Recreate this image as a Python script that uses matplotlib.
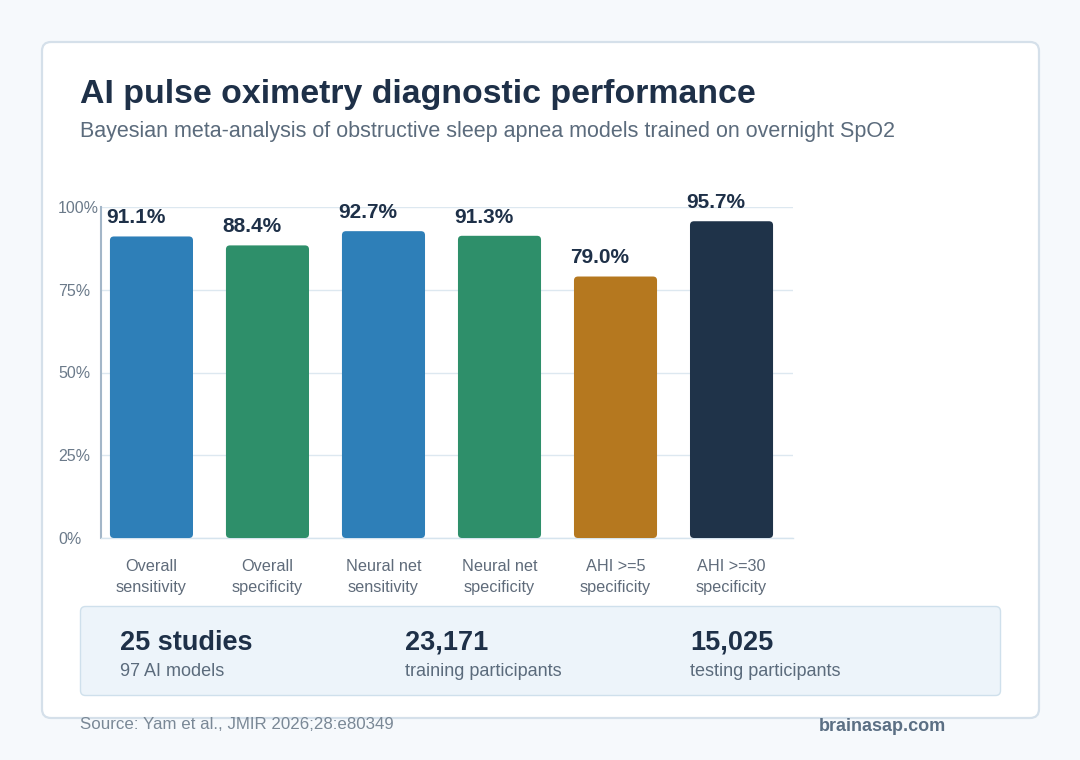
import matplotlib
matplotlib.use("Agg")
import matplotlib.pyplot as plt
from matplotlib.patches import FancyBboxPatch

plt.rcParams['font.family'] = ['Liberation Sans', 'DejaVu Sans']

# ---- data ----
categories = ["Overall\nsensitivity", "Overall\nspecificity", "Neural net\nsensitivity",
              "Neural net\nspecificity", "AHI >=5\nspecificity", "AHI >=30\nspecificity"]
values = [91.1, 88.4, 92.7, 91.3, 79.0, 95.7]
colors = ["#2e7fb8", "#2e8f6a", "#2e7fb8", "#2e8f6a", "#b5781f", "#1f3349"]
yticks = [0, 25, 50, 75, 100]
ytick_labels = ["0%", "25%", "50%", "75%", "100%"]
stat_big = ["25 studies", "23,171", "15,025"]
stat_small = ["97 AI models", "training participants", "testing participants"]

title = "AI pulse oximetry diagnostic performance"
subtitle = "Bayesian meta-analysis of obstructive sleep apnea models trained on overnight SpO2"
source = "Source: Yam et al., JMIR 2026;28:e80349"
brand = "brainasap.com"

W, H = 1080, 760
fig = plt.figure(figsize=(W / 100, H / 100), dpi=100)
fig.patch.set_facecolor("#f6f9fc")

# background axes in pixel coordinates
bg = fig.add_axes([0, 0, 1, 1])
bg.set_xlim(0, W)
bg.set_ylim(H, 0)
bg.axis("off")

card = FancyBboxPatch((42, 42), 997, 676, boxstyle="round,pad=0,rounding_size=9",
                      facecolor="white", edgecolor="#d5e0ea", linewidth=1.6)
bg.add_patch(card)

box = FancyBboxPatch((80.5, 606.5), 920, 89, boxstyle="round,pad=0,rounding_size=5",
                     facecolor="#edf4fa", edgecolor="#cfe0ec", linewidth=1.0)
bg.add_patch(box)

bg.text(80, 103, title, fontsize=24.4, fontweight="bold", color="#1e3048",
        ha="left", va="baseline")
bg.text(80, 137, subtitle, fontsize=15.5, color="#5b6b7c", ha="left", va="baseline")

stat_x = [120, 405, 690]
for x, big, small in zip(stat_x, stat_big, stat_small):
    bg.text(x, 650, big, fontsize=19.5, fontweight="bold", color="#1e3048",
            ha="left", va="baseline")
    bg.text(x, 676, small, fontsize=13, color="#5b6b7c", ha="left", va="baseline")

bg.text(80, 729, source, fontsize=12.2, color="#7a8896", ha="left", va="baseline")
bg.text(946, 731, brand, fontsize=13, fontweight="bold", color="#5b6f84",
        ha="right", va="baseline")

# chart axes
left, right, top, bottom = 101, 793, 207, 538
ax = fig.add_axes([left / W, (H - bottom) / H, (right - left) / W, (bottom - top) / H])
ax.set_facecolor("none")

x = list(range(len(categories)))
bw = 0.716
bars = ax.bar(x, values, width=bw, color=colors, zorder=3)
ax.set_xlim(-0.435, 5.53)
ax.set_ylim(0, 100)

# rounded corners on bars
px_x = 116.0  # px per x unit
px_y = (bottom - top) / 100.0
r = 4.0 / px_x
aspect = (1 / px_y) / (1 / px_x)
for b, c in zip(bars, colors):
    b.set_visible(False)
    bx, by, bwid, bh = b.get_x(), b.get_y(), b.get_width(), b.get_height()
    p = FancyBboxPatch((bx, by), bwid, bh, boxstyle=f"round,pad=0,rounding_size={r}",
                       mutation_aspect=aspect, facecolor=c, edgecolor="none", zorder=3)
    ax.add_patch(p)

for b, v in zip(bars, values):
    ax.annotate(f"{v:.1f}%", (b.get_x() - 0.03, v), xytext=(0, 6.5),
                textcoords="offset points", ha="left", va="bottom",
                fontsize=15, fontweight="bold", color="#1e3048", zorder=4)

ax.set_yticks(yticks)
ax.set_yticklabels(ytick_labels, ha="left")
ax.tick_params(axis="y", length=0, pad=31, labelsize=11.5, labelcolor="#6b7a8a")
ax.set_xticks(x)
ax.set_xticklabels(categories, linespacing=1.5)
ax.tick_params(axis="x", length=0, pad=15, labelsize=11.7, labelcolor="#5f6b7a")

ax.grid(axis="y", color="#dde8f0", linewidth=1, zorder=0)
ax.set_axisbelow(True)
for s in ["top", "right"]:
    ax.spines[s].set_visible(False)
ax.spines["left"].set_color("#a3b6c8")
ax.spines["left"].set_linewidth(1.5)
ax.spines["bottom"].set_color("#d6e4ee")
ax.spines["bottom"].set_linewidth(1)

fig.savefig("out.png", dpi=100, facecolor=fig.get_facecolor())
